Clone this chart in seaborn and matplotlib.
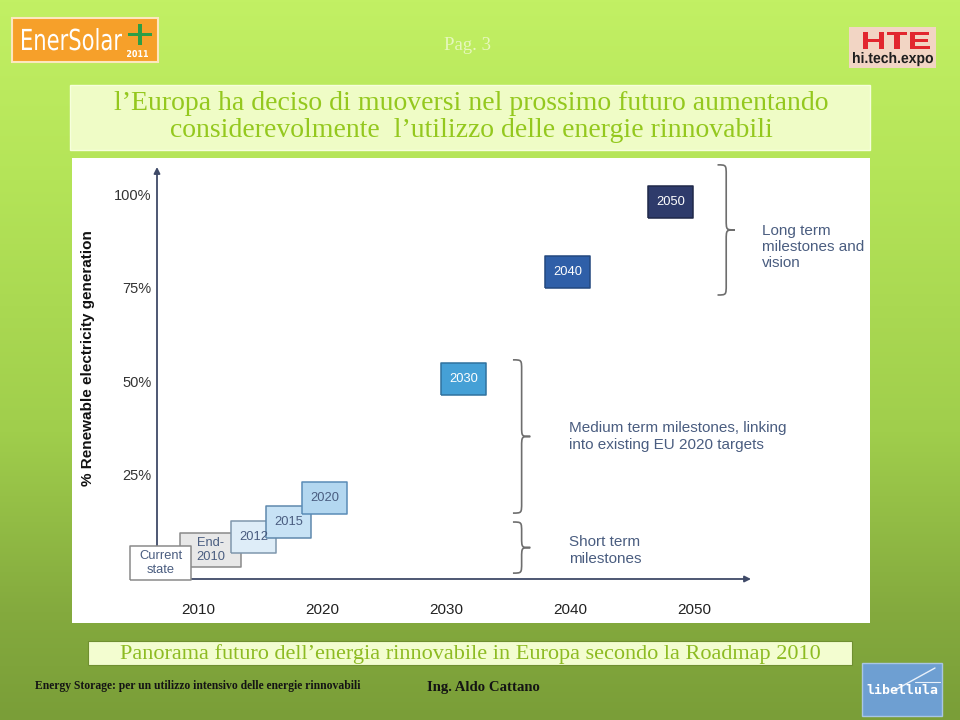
import numpy as np
import pandas as pd
import matplotlib
matplotlib.use('Agg')
import matplotlib.pyplot as plt
from matplotlib.path import Path
from matplotlib.patches import PathPatch, Rectangle
from matplotlib.textpath import TextPath
from matplotlib.font_manager import FontProperties
from matplotlib.transforms import Affine2D
import seaborn as sns

# ─── DATA ────────────────────────────────────────────────────────────────
milestones = ['Current\nstate', 'End-\n2010', '2012', '2015', '2020', '2030', '2040', '2050']
milestone_year = [2007.0, 2011.0, 2014.5, 2017.3, 2020.2, 2031.4, 2039.8, 2048.1]
milestone_share = [1.2, 4.7, 8.2, 12.2, 18.6, 50.6, 79.3, 98.0]

year_ticks = [2010, 2020, 2030, 2040, 2050]
share_ticks = [25, 50, 75, 100]
share_labels = ['25%', '50%', '75%', '100%']

groups = ['Long term\nmilestones and\nvision',
          'Medium term milestones, linking\ninto existing EU 2020 targets',
          'Short term\nmilestones']
group_top = [108.0, 55.7, 12.2]
group_bottom = [73.1, 14.6, -1.5]

title = 'l’Europa ha deciso di muoversi nel prossimo futuro aumentando\nconsiderevolmente  l’utilizzo delle energie rinnovabili'
caption = 'Panorama futuro dell’energia rinnovabile in Europa secondo la Roadmap 2010'
footer_left = 'Energy Storage: per un utilizzo intensivo delle energie rinnovabili'
footer_author = 'Ing. Aldo Cattano'

# ─── STYLES ──────────────────────────────────────────────────────────────
box_fill = {'Current\nstate': '#ffffff', 'End-\n2010': '#e8e8e8', '2012': '#deedf8',
            '2015': '#c7e2f5', '2020': '#b3d7f0', '2030': '#45a0d6',
            '2040': '#2f5fa8', '2050': '#2e3b6b'}
box_edge = {'Current\nstate': '#8a8a8a', 'End-\n2010': '#8a8a8a', '2012': '#7f97ad',
            '2015': '#5f89ad', '2020': '#5a8cb7', '2030': '#2f729e',
            '2040': '#23487f', '2050': '#1f2849'}
dark_boxes = ['2030', '2040', '2050']
slate = '#4a5d80'
brace_x = [2051.9, 2035.4, 2035.4]
label_x = [2055.5, 2039.9, 2039.9]
label_dy = [-4.5, 0.0, -0.8]

sns.set_theme(style='white')
plt.rcParams['font.family'] = ['Liberation Sans', 'DejaVu Sans']
serif = ['Liberation Serif', 'DejaVu Serif']

fig = plt.figure(figsize=(9.6, 7.2), dpi=100)

# ─── SLIDE BACKGROUND (pixel coordinates) ────────────────────────────────
bg = fig.add_axes([0, 0, 1, 1])
bg.set_xlim(0, 960)
bg.set_ylim(720, 0)
bg.axis('off')
stops_y = [0.0, 0.25, 0.6, 0.85, 1.0]
stops_c = np.array([[194, 240, 100], [180, 228, 88], [160, 206, 76], [132, 170, 62], [122, 158, 56]]) / 255
yy = np.linspace(0, 1, 360)
grad = np.stack([np.interp(yy, stops_y, stops_c[:, k]) for k in range(3)], axis=-1)
bg.imshow(grad[:, None, :], extent=(0, 960, 720, 0), aspect='auto', zorder=0)


def fitted_text(ax, s, x, baseline, width, height, color, family, weight='normal'):
    # squeeze a word into a fixed pixel box (logo lettering)
    tp = TextPath((0, 0), s, size=1, prop=FontProperties(family=family, weight=weight))
    bb = tp.get_extents()
    tr = Affine2D().translate(-bb.x0, 0).scale(width / bb.width, -height / bb.y1).translate(x, baseline)
    ax.add_patch(PathPatch(tr.transform_path(tp), facecolor=color, edgecolor='none', zorder=3))


# title box, chart panel, caption box
bg.add_patch(Rectangle((70, 85), 800, 65, facecolor='#effcc6', edgecolor='#f6ffdc', lw=1, zorder=1))
bg.add_patch(Rectangle((72, 158), 798, 465, facecolor='white', edgecolor='none', zorder=1))
bg.add_patch(Rectangle((88, 641), 764, 24, facecolor='#f3fdd0', edgecolor='#6f8f30', lw=0.8, zorder=1))

bg.text(471, 117, title, ha='center', va='center', fontsize=20, color='#94c81e',
        family=serif, linespacing=1.1, zorder=2)
bg.text(470, 654, caption, ha='center', va='center', fontsize=16, color='#8dbb22',
        family=serif, zorder=2)
bg.text(467, 45, 'Pag. 3', ha='center', va='center', fontsize=13.5, color='#e6f7bd',
        family=serif, zorder=2)
bg.text(35, 686, footer_left, ha='left', va='center', fontsize=8.4, color='#141414',
        family=serif, weight='bold', zorder=2)
bg.text(427, 687, footer_author, ha='left', va='center', fontsize=10.6, color='#141414',
        family=serif, weight='bold', zorder=2)

# EnerSolar logo
bg.add_patch(Rectangle((12, 18), 146, 44, facecolor='#f6a02a', edgecolor='#fde7bf', lw=1.5, zorder=2))
fitted_text(bg, 'EnerSolar', 22, 50, 100, 22, 'white', 'DejaVu Sans')
fitted_text(bg, '+', 128, 45, 24, 21, '#2d9e46', 'DejaVu Sans', 'bold')
fitted_text(bg, '2011', 127, 57, 21, 7, 'white', 'DejaVu Sans', 'bold')

# hi.tech.expo logo
bg.add_patch(Rectangle((849, 27), 87, 41, facecolor='#f2d5c4', edgecolor='none', zorder=2))
fitted_text(bg, 'HTE', 863, 49, 67, 17, '#e2262e', 'Liberation Sans', 'bold')
fitted_text(bg, 'hi.tech.expo', 853, 63, 80, 11, '#1e1e1e', 'Liberation Sans', 'bold')

# libellula logo
bg.add_patch(Rectangle((862, 663), 80, 53, facecolor='#6e9fd2', edgecolor='#a9c6e4', lw=1, zorder=2))
bg.plot([895, 935], [690, 668], color='#e8f0fa', lw=1.0, zorder=3)
bg.plot([915, 940], [682, 682], color='#e8f0fa', lw=0.8, zorder=3)
bg.text(902, 690, 'libellula', ha='center', va='center', fontsize=9.5, color='white',
        family='DejaVu Sans Mono', weight='bold', zorder=3)

# ─── CHART ───────────────────────────────────────────────────────────────
ax = fig.add_axes([157 / 960, 141 / 720, 594 / 960, 412 / 720])
ax.set_facecolor('none')
ax.set_xlim(2006.69, 2054.6)
ax.set_ylim(-3.08, 107.43)
sns.despine(ax=ax, left=True, bottom=True)

x0, x1 = ax.get_xlim()
y0, y1 = ax.get_ylim()
axis_col = '#3f4a68'
for start, end in [((x0, y0), (x0, y1)), ((x0, y0), (x1, y0))]:
    ax.annotate('', xy=end, xytext=start, annotation_clip=False,
                arrowprops=dict(arrowstyle='-|>', color=axis_col, lw=1.3,
                                mutation_scale=9, shrinkA=0, shrinkB=0))

ax.set_xticks(year_ticks)
ax.set_xticklabels([str(y) for y in year_ticks])
ax.set_yticks(share_ticks)
ax.set_yticklabels(share_labels)
ax.tick_params(axis='x', length=0, pad=17, labelsize=11, labelcolor='#222222')
ax.tick_params(axis='y', length=0, pad=4, labelsize=10.5, labelcolor='#333333')
ax.set_ylabel('% Renewable electricity generation', fontsize=11, weight='bold', color='#111111')
ax.yaxis.set_label_coords(-0.104, 0.536)

df = pd.DataFrame({'milestone': milestones, 'year': milestone_year, 'share': milestone_share})
df['kind'] = np.where(df['milestone'].str.contains('\n'), 'wide', 'small')
df = df.iloc[[1, 0, 2, 3, 4, 5, 6, 7]]  # current state box sits over the end-2010 box

rect_wide = np.array([[-30.5, -17], [30.5, -17], [30.5, 17], [-30.5, 17], [-30.5, -17]])
rect_small = np.array([[-22.5, -16], [22.5, -16], [22.5, 16], [-22.5, 16], [-22.5, -16]])
sns.scatterplot(data=df, x='year', y='share', hue='milestone', palette=box_fill,
                style='kind', markers={'wide': rect_wide, 'small': rect_small},
                size='kind', sizes={'wide': (61 * 0.72) ** 2, 'small': (45 * 0.72) ** 2},
                edgecolor=[box_edge[m] for m in df['milestone']], linewidth=1.1,
                legend=False, ax=ax, zorder=3, clip_on=False)
ax.set_xlabel('')

for _, row in df.iterrows():
    col = 'white' if row['milestone'] in dark_boxes else slate
    ax.text(row['year'], row['share'], row['milestone'], ha='center', va='center',
            fontsize=9.3, color=col, linespacing=1.2, zorder=5)


def brace(ax, x, top, bottom, w=1.4, r=2.8, color='#6e6e6e'):
    mid = (top + bottom) / 2
    h = x + w / 2
    verts = [(x, top), (h, top), (h, top), (h, top - r),
             (h, mid + r),
             (h, mid), (h, mid), (x + w, mid),
             (h, mid), (h, mid), (h, mid - r),
             (h, bottom + r),
             (h, bottom), (h, bottom), (x, bottom)]
    codes = [Path.MOVETO] + [Path.CURVE4] * 3 + [Path.LINETO] + [Path.CURVE4] * 6 \
        + [Path.LINETO] + [Path.CURVE4] * 3
    ax.add_patch(PathPatch(Path(verts, codes), facecolor='none', edgecolor=color,
                           lw=1.2, clip_on=False, zorder=2))


for g, top, bot, bx, lx, dy in zip(groups, group_top, group_bottom, brace_x, label_x, label_dy):
    brace(ax, bx, top, bot)
    ax.text(lx, (top + bot) / 2 + dy, g, ha='left', va='center', fontsize=11,
            color=slate, linespacing=1.2)

fig.savefig('out.png', dpi=100)
